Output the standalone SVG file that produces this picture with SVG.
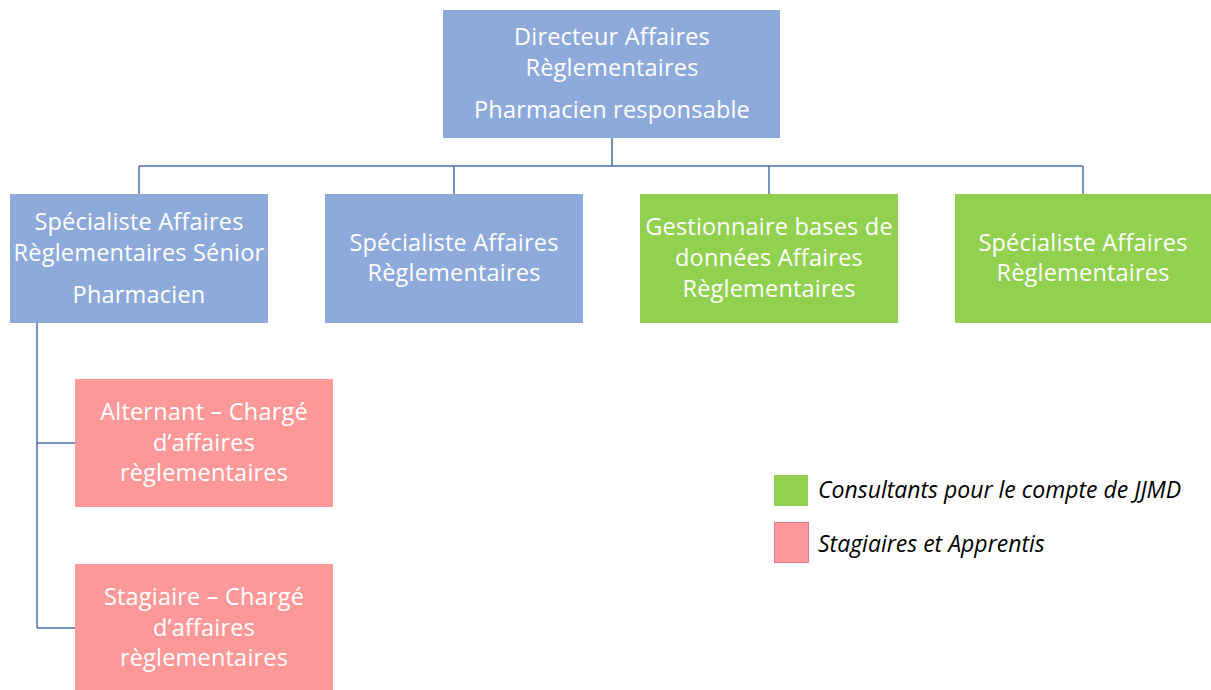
<svg xmlns="http://www.w3.org/2000/svg" width="1211" height="690" viewBox="0 0 1211 690">
<style>
.blue{fill:#8eaadb}
.green{fill:#92d050}
.pink{fill:#ff9999}
.t{font-family:"Open Sans","Liberation Sans",sans-serif;font-size:23.5px;letter-spacing:0.2px;fill:#ffffff;text-anchor:middle}
.lg{font-family:"Open Sans","Liberation Sans",sans-serif;font-size:23px;font-style:italic;fill:#000000}
.c{stroke:#4a6fb0;stroke-width:1.5;fill:none}
</style>
<rect width="1211" height="690" fill="#ffffff"/>
<g id="connectors">
<path class="c" d="M612 138V166M139 166H1083M139 166V194M454 166V194M769 166V194M1083 166V194"/>
<path class="c" d="M37 323V628M37 443H75M37 628H75"/>
</g>
<g id="n-directeur">
<rect class="blue" x="443" y="10" width="337" height="128"/>
<text class="t" x="612" y="45">Directeur Affaires</text>
<text class="t" x="612" y="76">Règlementaires</text>
<text class="t" x="612" y="118">Pharmacien responsable</text>
</g>
<g id="n-senior">
<rect class="blue" x="10" y="194" width="258" height="129"/>
<text class="t" x="139" y="230">Spécialiste Affaires</text>
<text class="t" x="139" y="261">Règlementaires Sénior</text>
<text class="t" x="139" y="303">Pharmacien</text>
</g>
<g id="n-specialiste1">
<rect class="blue" x="325" y="194" width="258" height="129"/>
<text class="t" x="454" y="251">Spécialiste Affaires</text>
<text class="t" x="454" y="281">Règlementaires</text>
</g>
<g id="n-gestionnaire">
<rect class="green" x="640" y="194" width="258" height="129"/>
<text class="t" x="769" y="235">Gestionnaire bases de</text>
<text class="t" x="769" y="266">données Affaires</text>
<text class="t" x="769" y="297">Règlementaires</text>
</g>
<g id="n-specialiste2">
<rect class="green" x="955" y="194" width="256" height="129"/>
<text class="t" x="1083" y="251">Spécialiste Affaires</text>
<text class="t" x="1083" y="281">Règlementaires</text>
</g>
<g id="n-alternant">
<rect class="pink" x="75" y="379" width="258" height="128"/>
<text class="t" x="204" y="420">Alternant – Chargé</text>
<text class="t" x="204" y="451">d’affaires</text>
<text class="t" x="204" y="481">règlementaires</text>
</g>
<g id="n-stagiaire">
<rect class="pink" x="75" y="564" width="258" height="126"/>
<text class="t" x="204" y="605">Stagiaire – Chargé</text>
<text class="t" x="204" y="636">d’affaires</text>
<text class="t" x="204" y="666">règlementaires</text>
</g>
<g id="legend">
<rect class="green" x="774" y="475" width="34" height="31"/>
<text class="lg" x="818" y="498">Consultants pour le compte de JJMD</text>
<rect class="pink" x="774.5" y="522.5" width="34" height="40" stroke="#e87596" stroke-width="1"/>
<text class="lg" x="818" y="552">Stagiaires et Apprentis</text>
</g>
</svg>
